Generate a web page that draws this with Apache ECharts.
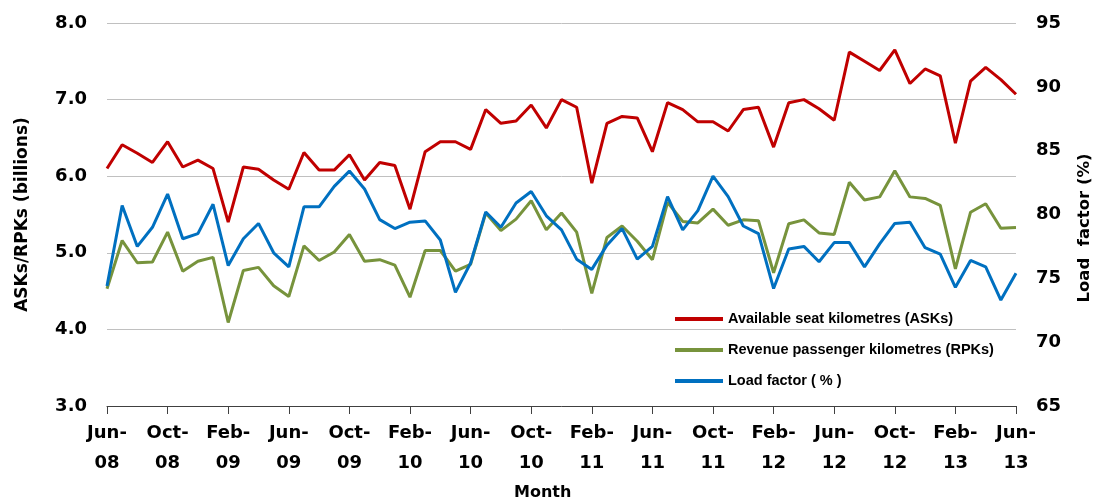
<!DOCTYPE html>
<html>
<head>
<meta charset="utf-8">
<script src="https://cdn.jsdelivr.net/npm/echarts@6/dist/echarts.min.js"></script>
<style>
html,body{margin:0;padding:0;background:#fff;overflow:hidden;width:1094px;height:499px;}
#chart{width:1094px;height:499px;display:block;}
</style>
</head>
<body>
<div id="chart"></div>
<script>
const months = ['Jun-08','Jul-08','Aug-08','Sep-08','Oct-08','Nov-08','Dec-08','Jan-09','Feb-09','Mar-09','Apr-09','May-09',
'Jun-09','Jul-09','Aug-09','Sep-09','Oct-09','Nov-09','Dec-09','Jan-10','Feb-10','Mar-10','Apr-10','May-10',
'Jun-10','Jul-10','Aug-10','Sep-10','Oct-10','Nov-10','Dec-10','Jan-11','Feb-11','Mar-11','Apr-11','May-11',
'Jun-11','Jul-11','Aug-11','Sep-11','Oct-11','Nov-11','Dec-11','Jan-12','Feb-12','Mar-12','Apr-12','May-12',
'Jun-12','Jul-12','Aug-12','Sep-12','Oct-12','Nov-12','Dec-12','Jan-13','Feb-13','Mar-13','Apr-13','May-13','Jun-13'];

const askValues = [6.10,6.41,6.30,6.18,6.45,6.12,6.21,6.10,5.40,6.12,
6.09,5.95,5.83,6.31,6.08,6.08,6.28,5.95,6.18,6.14,
5.57,6.32,6.45,6.45,6.35,6.87,6.69,6.72,6.93,6.63,
7.00,6.90,5.91,6.69,6.78,6.76,6.32,6.96,6.87,6.71,
6.71,6.59,6.87,6.90,6.38,6.96,7.00,6.88,6.73,7.62,
7.50,7.38,7.65,7.21,7.40,7.31,6.43,7.24,7.42,7.26,7.07];

const rpkValues = [4.53,5.16,4.87,4.88,5.27,4.76,4.89,4.94,4.09,4.77,
4.81,4.57,4.43,5.09,4.90,5.01,5.24,4.89,4.91,4.84,
4.42,5.03,5.03,4.76,4.85,5.52,5.29,5.44,5.68,5.30,
5.52,5.27,4.47,5.20,5.35,5.15,4.91,5.66,5.41,5.39,
5.57,5.36,5.43,5.42,4.74,5.38,5.43,5.26,5.24,5.92,
5.69,5.73,6.07,5.73,5.71,5.62,4.79,5.53,5.64,5.32,5.33];

const lfValues = [74.4,80.7,77.5,79.0,81.6,78.1,78.5,80.8,76.0,78.1,
79.3,77.0,75.9,80.6,80.6,82.2,83.4,82.0,79.6,78.9,
79.4,79.5,78.0,73.9,76.2,80.2,79.0,80.9,81.8,79.9,
78.8,76.5,75.7,77.6,78.9,76.5,77.5,81.4,78.8,80.3,
83.0,81.4,79.1,78.5,74.2,77.3,77.5,76.3,77.8,77.8,
75.9,77.7,79.3,79.4,77.4,76.9,74.3,76.4,75.9,73.3,75.4];

const seriesNames = ['Available seat kilometres (ASKs)','Revenue passenger kilometres (RPKs)','Load factor ( % )'];
const leftAxisName = 'ASKs/RPKs (billions)';
const rightAxisName = 'Load  factor (%)';
const xAxisName = 'Month';

const axisFont = 'DejaVu Sans';
const chart = echarts.init(document.getElementById('chart'), null, {renderer:'canvas', width: 1094, height: 499});
chart.setOption({
  animation: false,
  backgroundColor: '#ffffff',
  grid: {left: 107, right: 78, top: 23, bottom: 93, containLabel: false, outerBoundsMode: 'none'},
  legend: {
    orient: 'vertical', left: 670, top: 306,
    itemWidth: 48, itemHeight: 4, itemGap: 15,
    icon: 'rect',
    textStyle: {fontFamily: 'Liberation Sans', fontWeight: 'bold', fontSize: 14.5, color: '#000', lineHeight: 16},
    data: seriesNames
  },
  graphic: [{
    type: 'text', left: 514, top: 485,
    style: {text: xAxisName, fill: '#000', font: 'bold 16px "DejaVu Sans"'}
  }],
  xAxis: {
    type: 'category', data: months, boundaryGap: false,
    axisLine: {lineStyle: {color: '#404040', width: 1}},
    axisTick: {interval: 3, length: 8, lineStyle: {color: '#404040'}},
    axisLabel: {
      interval: 3, margin: 12, color: '#000', fontFamily: axisFont, fontWeight: 'bold', fontSize: 18, lineHeight: 30,
      formatter: v => v.replace('-', '-\n')
    },
    splitLine: {show: false}
  },
  yAxis: [{
    type: 'value', min: 3, max: 8, interval: 1, position: 'left',
    name: leftAxisName, nameLocation: 'middle', nameGap: 76, nameRotate: 90,
    nameTextStyle: {fontFamily: axisFont, fontWeight: 'bold', fontSize: 17, color: '#000'},
    axisLine: {show: false}, axisTick: {show: false},
    axisLabel: {margin: 20, color: '#000', fontFamily: axisFont, fontWeight: 'bold', fontSize: 18, formatter: v => v.toFixed(1)},
    splitLine: {lineStyle: {color: '#c0c0c0', width: 1}}
  }, {
    type: 'value', min: 65, max: 95, interval: 5, position: 'right',
    name: rightAxisName, nameLocation: 'middle', nameGap: 60, nameRotate: 90,
    nameTextStyle: {fontFamily: axisFont, fontWeight: 'bold', fontSize: 16.5, color: '#000', padding: [0, 27, 0, 0]},
    axisLine: {show: false}, axisTick: {show: false},
    axisLabel: {margin: 20, color: '#000', fontFamily: axisFont, fontWeight: 'bold', fontSize: 18},
    splitLine: {show: false}
  }],
  series: [
    {name: seriesNames[0], type: 'line', yAxisIndex: 0, data: askValues, symbol: 'none', lineStyle: {width: 3, color: '#C00000'}, itemStyle: {color: '#C00000'}},
    {name: seriesNames[1], type: 'line', yAxisIndex: 0, data: rpkValues, symbol: 'none', lineStyle: {width: 3, color: '#77933C'}, itemStyle: {color: '#77933C'}},
    {name: seriesNames[2], type: 'line', yAxisIndex: 1, data: lfValues, symbol: 'none', lineStyle: {width: 3, color: '#0070C0'}, itemStyle: {color: '#0070C0'}}
  ]
});
</script>
</body>
</html>
